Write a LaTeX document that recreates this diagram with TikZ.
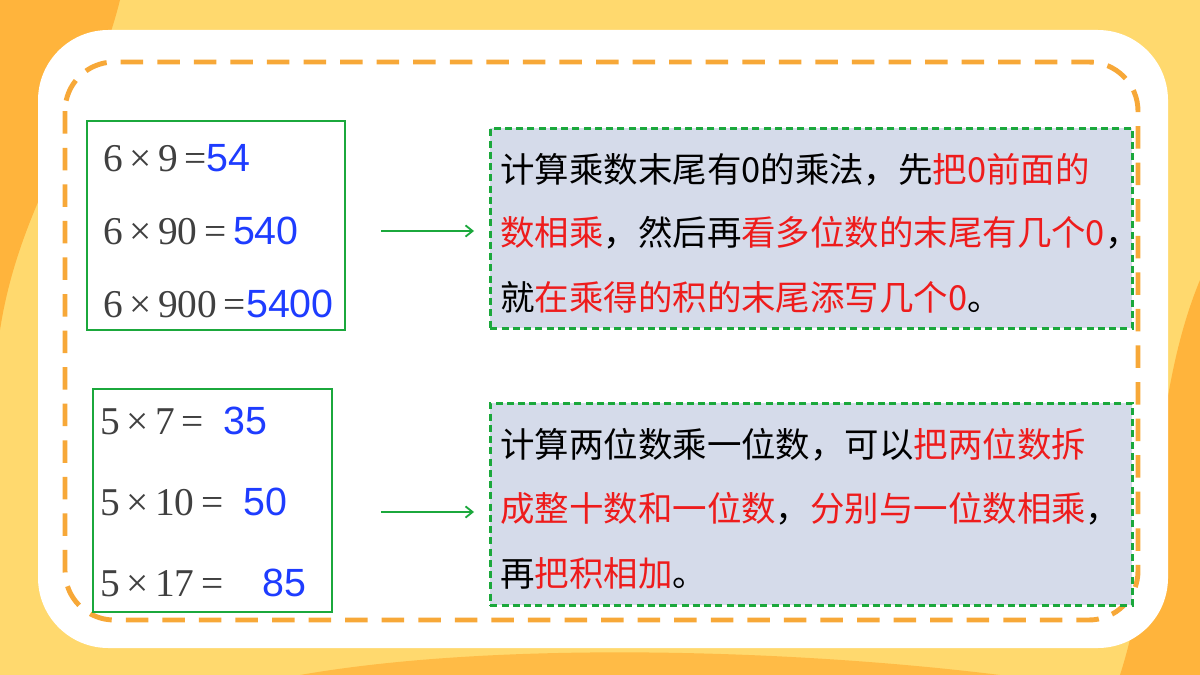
\documentclass[tikz,border=0pt]{standalone}
\usepackage{fontspec}
\setmainfont{Liberation Serif}
\newfontfamily\cjk{Noto Sans CJK SC}
\newfontfamily\ans{Liberation Sans}
\usetikzlibrary{arrows.meta}
\definecolor{bgy}{HTML}{FFD96E}
\definecolor{bgo}{HTML}{FFB43C}
\definecolor{dorange}{HTML}{F7A838}
\definecolor{gbox}{HTML}{1BA83C}
\definecolor{fillb}{HTML}{D5DBEA}
\definecolor{ansb}{HTML}{1E3CFF}
\definecolor{redt}{HTML}{EE1C1C}
\tikzset{
 eqbox/.style={draw=gbox,line width=2pt},
 rulebox/.style={draw=gbox,fill=fillb,line width=2pt,dash pattern=on 5pt off 3pt},
 conn/.style={draw=gbox,line width=1.3pt,-{Straight Barb[length=5pt,width=8pt]}},
 eq/.style={anchor=west,font=\fontsize{28}{28}\selectfont,text=black!75,inner sep=0pt},
 txt/.style={anchor=west,font=\cjk\fontsize{24.5}{24.5}\selectfont,inner sep=0pt},
}
\newcommand{\an}[1]{\textcolor{ansb}{\ans\fontsize{28}{28}\selectfont #1}}
\newcommand{\rd}[1]{\textcolor{redt}{#1}}
\newcommand{\tm}{\,×\,}
\begin{document}
\begin{tikzpicture}[x=0.025cm,y=-0.025cm]
\useasboundingbox (0,0) rectangle (1200,675);
\fill[bgy] (0,0) rectangle (1200,675);
\fill[bgo] (0,0) -- (120,0) .. controls (90,120) and (20,200) .. (0,330) -- cycle;
\fill[bgo] (1200,280) .. controls (1150,400) and (1160,550) .. (1120,675) -- (1200,675) -- cycle;
\fill[bgo!80!bgy] (300,675) .. controls (500,640) and (800,650) .. (1000,675) -- cycle;
\fill[white,rounded corners=50] (38,30) rectangle (1168,648);
\draw[dorange,line width=3.5pt,dash pattern=on 16pt off 10pt,rounded corners=35] (65,62) rectangle (1138,620);
\draw[eqbox] (87,121) rectangle (345,330);
\draw[eqbox] (93,389) rectangle (332,612);
\node[rulebox,minimum width=642*0.025cm,minimum height=200*0.025cm,anchor=north west] (r1) at (489,127) {};
\node[rulebox,minimum width=642*0.025cm,minimum height=202*0.025cm,anchor=north west] (r2) at (489,402) {};
\coordinate (a1) at (381,231); \coordinate (b1) at (474,231);
\coordinate (a2) at (381,512); \coordinate (b2) at (474,512);
\draw[conn] (a1) -- (b1);
\draw[conn] (a2) -- (b2);
\node[eq] (e1) at (103,158) {6\tm9\,=\an{54}};
\node[eq] (e2) at (103,231) {6\tm90\,=\,\an{540}};
\node[eq] (e3) at (103,304) {6\tm900\,=\an{5400}};
\node[eq] (e4) at (100,421) {5\tm7\,=\ \ \an{35}};
\node[eq] (e5) at (100,502) {5\tm10\,=\ \ \an{50}};
\node[eq] (e6) at (100,583) {5\tm17\,=\ \ \ \ \an{85}};
\node[txt] (t1) at (500,170) {计算乘数末尾有0的乘法，先\rd{把0前面的}};
\node[txt] (t2) at (500,233) {\rd{数相乘}，然后再\rd{看多位数的末尾有几个0}，};
\node[txt] (t3) at (500,297) {就\rd{在乘得的积的末尾添写几个0}。};
\node[txt] (t4) at (500,445) {计算两位数乘一位数，可以\rd{把两位数拆}};
\node[txt] (t5) at (500,509) {\rd{成整十数和一位数}，\rd{分别与一位数相乘}，};
\node[txt] (t6) at (500,573) {再\rd{把积相加}。};
\end{tikzpicture}
\end{document}
